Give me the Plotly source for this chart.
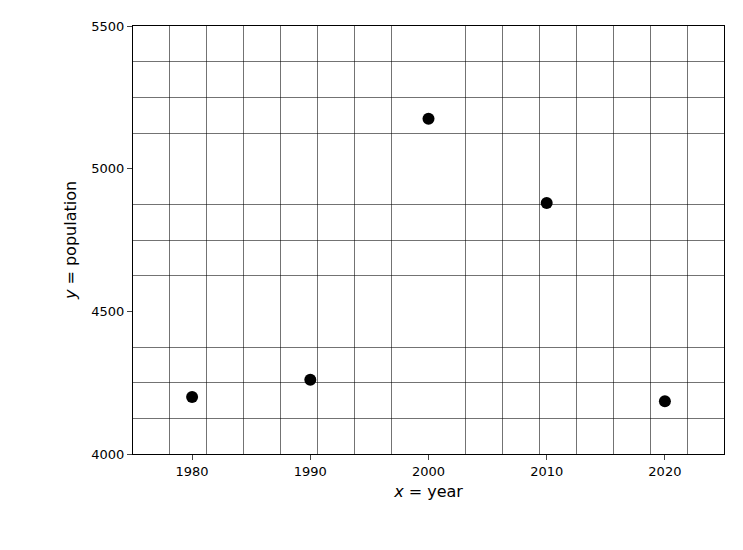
import plotly.graph_objects as go

years = [1980, 1990, 2000, 2010, 2020]
population = [4200, 4260, 5175, 4880, 4185]

fig = go.Figure(go.Scatter(x=years, y=population, mode="markers",
                           marker=dict(color="black", size=12)))
grid = "rgba(0,0,0,0.55)"
fig.update_layout(
    width=743, height=550, plot_bgcolor="white", paper_bgcolor="white",
    margin=dict(l=125, r=27, t=18, b=104), showlegend=False,
    font=dict(family="DejaVu Sans", color="black", size=13),
)
fig.update_xaxes(range=[1975, 2025], tick0=1980, dtick=10, showgrid=False,
                 ticks="outside", ticklen=5, showline=True, linecolor="black", mirror=True,
                 zeroline=False,
                 minor=dict(tick0=1975, dtick=3.125, showgrid=True, gridcolor=grid, gridwidth=1, ticks=""),
                 title=dict(text="<i>x</i> = year", font=dict(size=16), standoff=8))
fig.update_yaxes(range=[4000, 5500], tick0=4000, dtick=500, showgrid=False,
                 ticks="outside", ticklen=5, showline=True, linecolor="black", mirror=True,
                 zeroline=False,
                 minor=dict(tick0=4000, dtick=125, showgrid=True, gridcolor=grid, gridwidth=1, ticks=""),
                 title=dict(text="<i>y</i> = population", font=dict(size=16), standoff=10))
fig.write_html("out.html")
